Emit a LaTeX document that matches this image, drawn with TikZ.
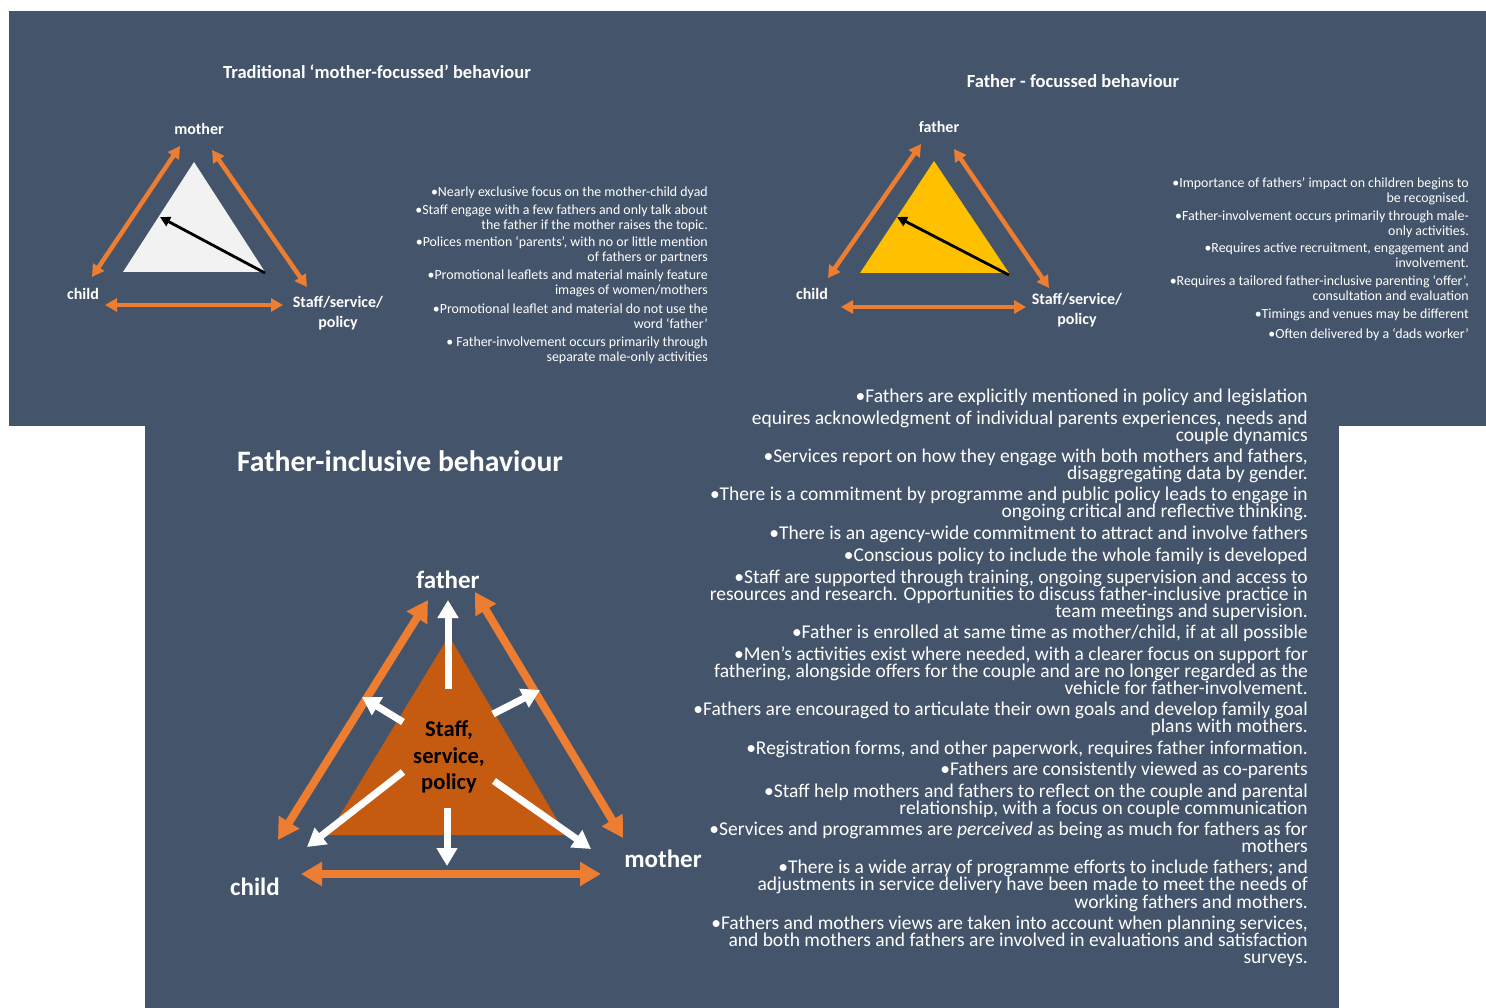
\documentclass[tikz,border=0pt]{standalone}
\usepackage{fontspec}
\setmainfont{Carlito}
\usetikzlibrary{arrows.meta}
\definecolor{slate}{HTML}{44546A}
\definecolor{accent}{HTML}{ED7D31}
\definecolor{gold}{HTML}{FFC000}
\definecolor{rust}{HTML}{C55A11}
\definecolor{paper}{HTML}{F2F2F2}
\begin{document}
\begin{tikzpicture}[x=1pt,y=-1pt,
	title/.style={text=white,font=\bfseries\fontsize{18.5}{22}\selectfont},
	tag/.style={text=white,font=\bfseries\fontsize{16}{20}\selectfont,align=center},
	bigtag/.style={text=white,font=\bfseries\fontsize{25}{30}\selectfont},
	note/.style={text=white,font=\fontsize{13.9}{15}\selectfont,anchor=base east,inner sep=0pt},
	point/.style={text=white,font=\fontsize{19.5}{20}\selectfont,anchor=base east,inner sep=0pt},
	link/.style={accent,line width=4.5pt,{Triangle[width=13pt,length=12pt]}-{Triangle[width=13pt,length=12pt]}},
	biglink/.style={accent,line width=8pt,{Triangle[width=23pt,length=21pt]}-{Triangle[width=23pt,length=21pt]}},
	pointer/.style={black,line width=2.8pt,-{Triangle[width=10pt,length=10pt]}},
	ray/.style={white,line width=7pt,-{Triangle[width=20pt,length=18pt]}}]
	\useasboundingbox (0,0) rectangle (1486,1008);
	\fill[white] (0,0) rectangle (1486,1008);
	\fill[slate] (9,11) rectangle (1486,426);
	\fill[slate] (145,426) rectangle (1339,1008);
	% traditional, mother-focussed
	\node[title] (tradT) at (377,72) {Traditional `mother-focussed' behaviour};
	\fill[paper] (194,162) -- (123,272) -- (265,272) -- cycle;
	\path (180,146) coordinate (tm1) (92,277) coordinate (tc1) (212,150) coordinate (tm2) (307,287) coordinate (ts2)
		(105,305) coordinate (tc3) (283,305) coordinate (ts3) (265,273) coordinate (tp0) (160,217) coordinate (tp1);
	\draw[link] (tm1)--(tc1);
	\draw[link] (tm2)--(ts2);
	\draw[link] (tc3)--(ts3);
	\draw[pointer] (tp0)--(tp1);
	\node[tag] (tMother) at (199,129) {mother};
	\node[tag] (tChild) at (83,294) {child};
	\node[tag] (tStaff) at (338,313) {Staff/service/\\policy};
	\foreach \y/\t in {197/{•Nearly exclusive focus on the mother-child dyad},
		215/{•Staff engage with a few fathers and only talk about}, 230/{the father if the mother raises the topic.},
		247/{•Polices mention `parents', with no or little mention}, 262/{of fathers or partners},
		280/{•Promotional leaflets and material mainly feature}, 295/{images of women/mothers},
		313/{•Promotional leaflet and material do not use the}, 328/{word `father'},
		347/{• Father-involvement occurs primarily through}, 361/{separate male-only activities}}
		\node[note] (tn\y) at (708,\y) {\t};
	% father-focussed
	\node[title] (focT) at (1073,81) {Father - focussed behaviour};
	\fill[gold] (934,161) -- (860,273) -- (1009,273) -- cycle;
	\path (921,144) coordinate (ff1) (828,278) coordinate (fc1) (954,149) coordinate (ff2) (1049,288) coordinate (fs2)
		(841,307) coordinate (fc3) (1026,307) coordinate (fs3) (1009,275) coordinate (fp0) (897,217) coordinate (fp1);
	\draw[link] (ff1)--(fc1);
	\draw[link] (ff2)--(fs2);
	\draw[link] (fc3)--(fs3);
	\draw[pointer] (fp0)--(fp1);
	\node[tag] (fFather) at (939,127) {father};
	\node[tag] (fChild) at (812,294) {child};
	\node[tag] (fStaff) at (1077,310) {Staff/service/\\policy};
	\foreach \y/\t in {188/{•Importance of fathers' impact on children begins to}, 203/{be recognised.},
		221/{•Father-involvement occurs primarily through male-}, 236/{only activities.},
		253/{•Requires active recruitment, engagement and}, 268/{involvement.},
		286/{•Requires a tailored father-inclusive parenting `offer',}, 301/{consultation and evaluation},
		319/{•Timings and venues may be different}, 338/{•Often delivered by a `dads worker'}}
		\node[note] (fn\y) at (1469,\y) {\t};
	% father-inclusive
	\node[bigtag,font=\bfseries\fontsize{29.7}{34}\selectfont] (inclT) at (400,461) {Father-inclusive behaviour};
	\fill[rust] (449,636) -- (328,835) -- (566,835) -- cycle;
	\path (428,600) coordinate (if1) (278,840) coordinate (ic1) (475,592) coordinate (if2) (623,838) coordinate (im2)
		(301,874) coordinate (ic3) (601,874) coordinate (im3);
	\draw[biglink] (if1)--(ic1);
	\draw[biglink] (if2)--(im2);
	\draw[biglink] (ic3)--(im3);
	\foreach \a/\b/\c/\d [count=\k] in {448/689/448/600, 403/722/362/697, 493/714/540/690,
		403/772/307/847, 494/781/591/849, 447/808/447/866}
		\draw[ray] (\a,\b) coordinate (r\k) -- (\c,\d) coordinate (s\k);
	\node[font=\bfseries\fontsize{22.6}{26.5}\selectfont,align=center] (hub) at (449,757) {Staff,\\service,\\policy};
	\node[bigtag] (iFather) at (448,580) {father};
	\node[bigtag] (iChild) at (255,887) {child};
	\node[bigtag] (iMother) at (663,859) {mother};
	\foreach \y/\t in {402/{•Fathers are explicitly mentioned in policy and legislation},
		424/{equires acknowledgment of individual parents experiences, needs and}, 441/{couple dynamics},
		462/{•Services report on how they engage with both mothers and fathers,}, 479/{disaggregating data by gender.},
		500/{•There is a commitment by programme and public policy leads to engage in}, 517/{ongoing critical and reflective thinking.},
		539/{•There is an agency-wide commitment to attract and involve fathers},
		561/{•Conscious policy to include the whole family is developed},
		583/{•Staff are supported through training, ongoing supervision and access to},
		600/{resources and research. Opportunities to discuss father-inclusive practice in}, 617/{team meetings and supervision.},
		638/{•Father is enrolled at same time as mother/child, if at all possible},
		660/{•Men's activities exist where needed, with a clearer focus on support for},
		677/{fathering, alongside offers for the couple and are no longer regarded as the}, 694/{vehicle for father-involvement.},
		715/{•Fathers are encouraged to articulate their own goals and develop family goal}, 732/{plans with mothers.},
		754/{•Registration forms, and other paperwork, requires father information.},
		775/{•Fathers are consistently viewed as co-parents},
		797/{•Staff help mothers and fathers to reflect on the couple and parental}, 814/{relationship, with a focus on couple communication},
		835/{•Services and programmes are \textit{perceived} as being as much for fathers as for}, 852/{mothers},
		873/{•There is a wide array of programme efforts to include fathers; and},
		890/{adjustments in service delivery have been made to meet the needs of}, 908/{working fathers and mothers.},
		929/{•Fathers and mothers views are taken into account when planning services,},
		946/{and both mothers and fathers are involved in evaluations and satisfaction}, 963/{surveys.}}
		\node[point] (in\y) at (1308,\y) {\t};
\end{tikzpicture}
\end{document}
